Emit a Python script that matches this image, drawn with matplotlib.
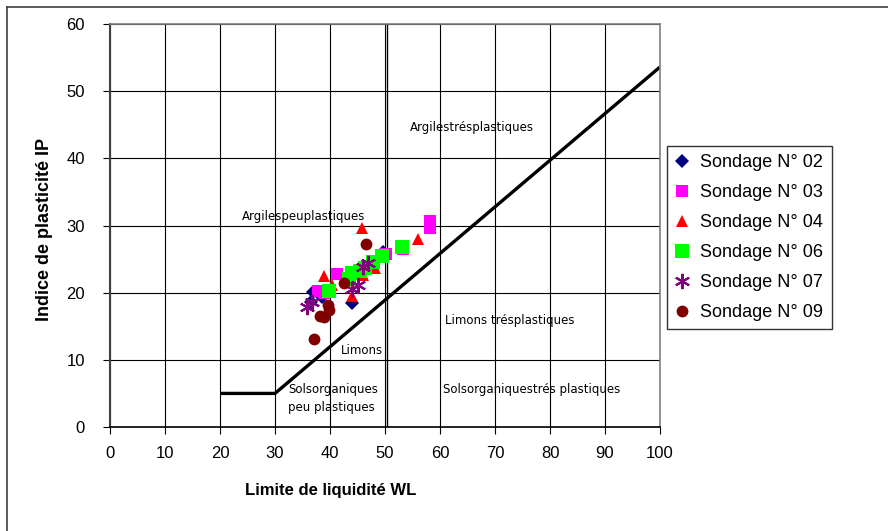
import numpy as np
import matplotlib.pyplot as plt
from matplotlib.lines import Line2D

plt.rcParams['font.family'] = ['Liberation Sans', 'DejaVu Sans']

# Liquid limit WL / plasticity index IP for each borehole
wl_02 = [36.9, 36.6, 38.5, 44.0, 49.7]
ip_02 = [20.1, 18.6, 19.4, 18.5, 26.0]

wl_03 = [37.8, 38.9, 41.2, 50.2, 53.3, 58.2, 58.2]
ip_03 = [20.2, 20.0, 22.8, 25.8, 26.5, 30.7, 29.6]

wl_04 = [38.9, 40.4, 44.0, 46.0, 48.2, 45.8, 56.0]
ip_04 = [22.5, 21.1, 19.5, 22.6, 23.7, 29.6, 28.0]

wl_06 = [39.8, 43.5, 44.0, 45.5, 46.4, 47.9, 49.4, 53.1]
ip_06 = [20.2, 22.0, 22.9, 23.2, 23.7, 24.6, 25.5, 26.8]

wl_07 = [35.8, 36.7, 44.0, 45.1, 46.0, 46.9]
ip_07 = [17.9, 18.6, 20.5, 21.1, 23.8, 24.4]

wl_09 = [37.1, 38.2, 38.9, 39.6, 39.8, 42.5, 46.5]
ip_09 = [13.1, 16.5, 16.4, 18.2, 17.4, 21.4, 27.2]

# Casagrande chart boundary line
line_wl = [20, 30, 100]
line_ip = [5, 5, 53.6]

fig = plt.figure(figsize=(8.88, 5.31), dpi=100)
ax = fig.add_axes([110 / 888, 1 - 427 / 531, 550 / 888, 403 / 531])

ax.set_xlim(0, 100)
ax.set_ylim(0, 60)
ax.set_xticks(np.arange(0, 101, 10))
ax.set_yticks(np.arange(0, 61, 10))
ax.grid(True, color='black', linewidth=0.8)
ax.set_axisbelow(True)
ax.tick_params(axis='both', labelsize=12, length=5, width=0.8, color='black')
ax.tick_params(axis='y', pad=13)
ax.tick_params(axis='x', pad=9)

for side in ['top', 'right']:
    ax.spines[side].set_color('#808080')
    ax.spines[side].set_linewidth(1.2)
ax.spines['left'].set_color('#404040')
ax.spines['left'].set_linewidth(1.5)
ax.spines['bottom'].set_color('black')
ax.spines['bottom'].set_linewidth(1.2)

# double line at WL = 50
ax.axvline(50.4, color='black', linewidth=1.0, zorder=2)
ax.plot(line_wl, line_ip, color='black', linewidth=2.4, zorder=2, solid_capstyle='butt')

series = [
    (wl_02, ip_02, 'D', '#000080', 7, 'Sondage N° 02'),
    (wl_03, ip_03, 's', '#ff00ff', 8, 'Sondage N° 03'),
    (wl_04, ip_04, '^', '#ff0000', 9, 'Sondage N° 04'),
    (wl_06, ip_06, 's', '#00ff00', 10, 'Sondage N° 06'),
    (wl_07, ip_07, (6, 2, 0), '#800080', 11, 'Sondage N° 07'),
    (wl_09, ip_09, 'o', '#800000', 8.5, 'Sondage N° 09'),
]
handles = []
for x, y, m, c, ms, lab in series:
    mew = 1.5 if m == (6, 2, 0) else 0
    h, = ax.plot(x, y, linestyle='none', marker=m, color=c, markersize=ms,
                 markeredgewidth=mew, markeredgecolor=c, label=lab, zorder=3)
    handles.append(h)

txt = dict(fontsize=8.5, color='black', zorder=4, family='DejaVu Sans')
ax.text(65.8, 44.6, 'Argilestrésplastiques', ha='center', va='center', **txt)
ax.text(24.0, 31.3, 'Argilespeuplastiques', ha='left', va='center', **txt)
ax.text(60.9, 15.9, 'Limons trésplastiques', ha='left', va='center', **txt)
ax.text(42.0, 11.4, 'Limons', ha='left', va='center', **txt)
ax.text(32.4, 5.6, 'Solsorganiques', ha='left', va='center', **txt)
ax.text(32.4, 2.9, 'peu plastiques', ha='left', va='center', **txt)
ax.text(60.6, 5.6, 'Solsorganiquestrés plastiques', ha='left', va='center', **txt)

ax.set_xlabel('Limite de liquidité WL', fontsize=12, fontweight='bold')
ax.set_ylabel('Indice de plasticité IP', fontsize=13, fontweight='bold')
ax.xaxis.set_label_coords(0.402, -0.138)
ax.yaxis.set_label_coords(-0.104, 0.489)

leg = fig.legend(handles=handles, loc='upper left', bbox_to_anchor=(667 / 888, 1 - 146 / 531),
                 frameon=True, fancybox=False, edgecolor='black', fontsize=13,
                 borderaxespad=0, handlelength=0.8, handletextpad=0.6,
                 labelspacing=0.72, borderpad=0.45)
leg.get_frame().set_linewidth(1.0)

# outer frame
fig.add_artist(Line2D([7 / 888, 7 / 888], [0, 1 - 7 / 531], color='#404040', linewidth=1.2))
fig.add_artist(Line2D([7 / 888, 1], [1 - 7 / 531, 1 - 7 / 531], color='#404040', linewidth=1.2))

fig.savefig('out.png', dpi=100)
